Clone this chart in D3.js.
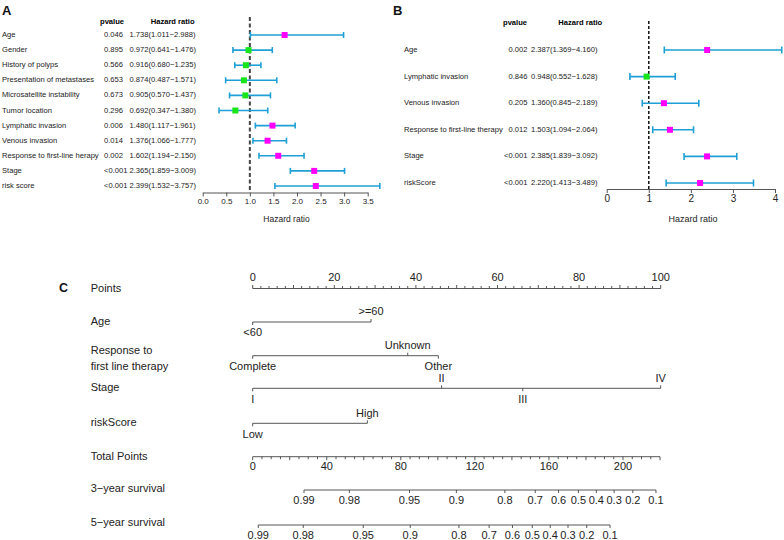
<!DOCTYPE html>
<html>
<head>
<meta charset="utf-8">
<script src="https://cdn.jsdelivr.net/npm/d3@7"></script>
<style>
  html, body { margin: 0; padding: 0; background: #fff; }
  svg { display: block; font-family: "Liberation Sans", Arial, sans-serif; }
</style>
</head>
<body>
<svg id="chart" width="784" height="540"></svg>
<script>
// ---------- Panel A data (univariate) ----------
const aVars = ["Age", "Gender", "History of polyps", "Presentation of metastases",
  "Microsatellite instability", "Tumor location", "Lymphatic invasion", "Venous invasion",
  "Response to first-line herapy", "Stage", "risk score"];
const aP = ["0.046", "0.895", "0.566", "0.653", "0.673", "0.296", "0.006", "0.014", "0.002", "<0.001", "<0.001"];
const aHR = [1.738, 0.972, 0.916, 0.874, 0.905, 0.692, 1.480, 1.376, 1.602, 2.365, 2.399];
const aLo = [1.011, 0.641, 0.680, 0.487, 0.570, 0.347, 1.117, 1.066, 1.194, 1.859, 1.532];
const aHi = [2.988, 1.476, 1.235, 1.571, 1.437, 1.380, 1.961, 1.777, 2.150, 3.009, 3.757];
const aTicks = [0, 0.5, 1, 1.5, 2, 2.5, 3, 3.5];

// ---------- Panel B data (multivariate) ----------
const bVars = ["Age", "Lymphatic invasion", "Venous invasion", "Response to first-line therapy", "Stage", "riskScore"];
const bP = ["0.002", "0.846", "0.205", "0.012", "<0.001", "<0.001"];
const bHR = [2.387, 0.948, 1.360, 1.503, 2.385, 2.220];
const bLo = [1.369, 0.552, 0.845, 1.094, 1.839, 1.413];
const bHi = [4.160, 1.628, 2.189, 2.064, 3.092, 3.489];
const bTicks = [0, 1, 2, 3, 4];

// ---------- Panel C data (nomogram) ----------
const pointsTicks = [0, 20, 40, 60, 80, 100];
const ageLevels = ["<60", ">=60"];
const agePoints = [0, 29];
const respLevels = ["Complete", "Unknown", "Other"];
const respPoints = [0, 38, 45.5];
const stageLevels = ["I", "II", "III", "IV"];
const stagePoints = [0, 46.3, 66.2, 100];
const riskLevels = ["Low", "High"];
const riskPoints = [0, 28.1];
const totalTicks = [0, 40, 80, 120, 160, 200];
const totalMax = 220;
const survLabels = ["0.99", "0.98", "0.95", "0.9", "0.8", "0.7", "0.6", "0.5", "0.4", "0.3", "0.2", "0.1"];
const surv3Points = [27.7, 52.2, 84.7, 110.0, 136.2, 152.6, 165.2, 175.9, 185.6, 195.2, 205.3, 217.8];
const surv5Points = [3.0, 27.3, 59.7, 85.1, 111.4, 127.7, 140.3, 151.0, 160.7, 170.3, 180.4, 193.0];

const svg = d3.select("#chart");
const CI_COLOR = "#1f9fd5";
const UP_COLOR = "#ff00ff";
const DOWN_COLOR = "#19e619";
const fmt3 = d3.format(".3f");

function forest(cfg) {
  const g = svg.append("g");
  const n = cfg.vars.length;
  const x = d3.scaleLinear().domain(cfg.domain).range(cfg.range);
  const y = d3.scaleLinear().domain([0, n - 1]).range(cfg.rowRange);

  g.append("text").attr("x", cfg.letterX).attr("y", 15).text(cfg.letter)
    .attr("font-weight", "bold").attr("font-size", 13).attr("fill", "#111");
  g.append("text").attr("x", cfg.pHeadX).attr("y", cfg.headY).text("pvalue")
    .attr("font-weight", "bold").attr("font-size", 7.6).attr("dominant-baseline", "middle");
  g.append("text").attr("x", cfg.hrHeadX).attr("y", cfg.headY).text("Hazard ratio")
    .attr("font-weight", "bold").attr("font-size", 7.6).attr("dominant-baseline", "middle");

  const rows = g.selectAll("g.row").data(d3.range(n)).join("g").attr("class", "row");
  rows.append("text").attr("x", cfg.labelX).attr("y", i => y(i)).text(i => cfg.vars[i])
    .attr("font-size", 7.6).attr("dominant-baseline", "middle").attr("fill", "#222");
  rows.append("text").attr("x", cfg.pX).attr("y", i => y(i)).text(i => cfg.p[i])
    .attr("text-anchor", cfg.pAnchor)
    .attr("font-size", 7.6).attr("dominant-baseline", "middle").attr("fill", "#222");
  rows.append("text").attr("x", cfg.hrX).attr("y", i => y(i))
    .text(i => `${fmt3(cfg.hr[i])}(${fmt3(cfg.lo[i])}\u2212${fmt3(cfg.hi[i])})`)
    .attr("font-size", 7.6).attr("dominant-baseline", "middle").attr("fill", "#222");

  // axis
  const axis = d3.axisBottom(x).tickValues(cfg.ticks).tickFormat(cfg.tickFmt).tickSize(4).tickSizeOuter(0);
  const ax = g.append("g").attr("transform", `translate(0,${cfg.axisY})`).call(axis);
  ax.select(".domain").attr("stroke", "#555").attr("stroke-width", 1);
  ax.selectAll(".tick line").attr("stroke", "#555");
  ax.selectAll(".tick text").attr("font-size", cfg.tickFont).attr("fill", "#222")
    .attr("font-family", "Liberation Sans, Arial, sans-serif").attr("dy", "0.6em");
  g.append("text").attr("x", cfg.titleX).attr("y", cfg.titleY).text("Hazard ratio")
    .attr("text-anchor", "middle").attr("font-size", cfg.titleFont).attr("dominant-baseline", "middle").attr("fill", "#222");

  // reference line at HR = 1
  g.append("line").attr("x1", x(1)).attr("x2", x(1)).attr("y1", cfg.dashTop).attr("y2", cfg.axisY)
    .attr("stroke", cfg.dashColor).attr("stroke-width", cfg.dashWidth).attr("stroke-dasharray", cfg.dashArray);

  // CIs
  const ci = g.selectAll("g.ci").data(d3.range(n)).join("g").attr("class", "ci");
  ci.append("line").attr("x1", i => x(cfg.lo[i])).attr("x2", i => x(cfg.hi[i]))
    .attr("y1", i => y(i)).attr("y2", i => y(i)).attr("stroke", CI_COLOR).attr("stroke-width", 1.6);
  ci.append("line").attr("x1", i => x(cfg.lo[i])).attr("x2", i => x(cfg.lo[i]))
    .attr("y1", i => y(i) - cfg.cap).attr("y2", i => y(i) + cfg.cap).attr("stroke", CI_COLOR).attr("stroke-width", 1.6);
  ci.append("line").attr("x1", i => x(cfg.hi[i])).attr("x2", i => x(cfg.hi[i]))
    .attr("y1", i => y(i) - cfg.cap).attr("y2", i => y(i) + cfg.cap).attr("stroke", CI_COLOR).attr("stroke-width", 1.6);
  ci.append("rect").attr("x", i => x(cfg.hr[i]) - cfg.box / 2).attr("y", i => y(i) - cfg.box / 2)
    .attr("width", cfg.box).attr("height", cfg.box)
    .attr("fill", i => cfg.hr[i] > 1 ? UP_COLOR : DOWN_COLOR);
}

forest({
  letter: "A", letterX: 2, vars: aVars, p: aP, hr: aHR, lo: aLo, hi: aHi,
  domain: [0, 3.5], range: [202.7, 367.7], rowRange: [35, 186],
  headY: 21.5, pHeadX: 100, hrHeadX: 150.7, labelX: 2, pX: 104, pAnchor: "start", hrX: 129.5,
  ticks: aTicks, tickFmt: d3.format(".1f"), axisY: 192.5, tickFont: 8,
  titleX: 286.5, titleY: 220, titleFont: 8.5,
  dashTop: 17, dashColor: "#444", dashWidth: 2, dashArray: "4,2.5",
  cap: 3, box: 6
});

forest({
  letter: "B", letterX: 393, vars: bVars, p: bP, hr: bHR, lo: bLo, hi: bHi,
  domain: [0, 4], range: [606.7, 775], rowRange: [50, 183],
  headY: 23.3, pHeadX: 503, hrHeadX: 558.3, labelX: 404, pX: 527.5, pAnchor: "end", hrX: 531,
  ticks: bTicks, tickFmt: d3.format("d"), axisY: 189, tickFont: 10,
  titleX: 693, titleY: 220, titleFont: 9,
  dashTop: 21, dashColor: "#111", dashWidth: 1.5, dashArray: "3,2",
  cap: 3.5, box: 6
});

// ---------- Panel C : nomogram ----------
const C = svg.append("g");
const TXT = "#222", LINE = "#444";
const px = d3.scaleLinear().domain([0, 100]).range([252.7, 660.7]);
const tx = d3.scaleLinear().domain([0, totalMax]).range([252.7, 252.7 + totalMax * 1.8515]);

C.append("text").attr("x", 59).attr("y", 289).text("C").attr("font-weight", "bold")
  .attr("font-size", 12.5).attr("dominant-baseline", "middle").attr("fill", "#111");

const leftLabels = [
  { t: ["Points"], y: 289 },
  { t: ["Age"], y: 321.7 },
  { t: ["Response to", "first line therapy"], y: 351 },
  { t: ["Stage"], y: 387.7 },
  { t: ["riskScore"], y: 423.3 },
  { t: ["Total Points"], y: 456.7 },
  { t: ["3\u2212year survival"], y: 489 },
  { t: ["5\u2212year survival"], y: 523.3 }
];
leftLabels.forEach(d => {
  d.t.forEach((s, k) => {
    C.append("text").attr("x", 90.7).attr("y", d.y + k * 15.7).text(s)
      .attr("font-size", 11).attr("dominant-baseline", "middle").attr("fill", TXT);
  });
});

function hline(x1, x2, y) {
  C.append("line").attr("x1", x1).attr("x2", x2).attr("y1", y).attr("y2", y)
    .attr("stroke", LINE).attr("stroke-width", 0.9);
}
function tick(x, y, len) {
  C.append("line").attr("x1", x).attr("x2", x).attr("y1", y).attr("y2", y + len)
    .attr("stroke", LINE).attr("stroke-width", 0.9);
}
function label(x, y, s) {
  C.append("text").attr("x", x).attr("y", y).text(s).attr("text-anchor", "middle")
    .attr("font-size", 11).attr("dominant-baseline", "middle").attr("fill", TXT);
}

// Points axis (labels above)
const yPts = 288.5;
hline(px(0), px(100), yPts);
d3.range(0, 100.001, 2).forEach(v => tick(px(v), yPts, v % 10 === 0 ? -3.5 : -2.5));
pointsTicks.forEach(v => label(px(v), yPts - 10.5, String(v)));

// factor axes
function factorAxis(levels, pts, y, sides) {
  hline(px(d3.min(pts)), px(d3.max(pts)), y);
  levels.forEach((lv, i) => {
    const up = sides[i] === "up";
    tick(px(pts[i]), y, up ? -3 : 3);
    label(px(pts[i]), up ? y - 9.5 : y + 11.3, lv);
  });
}
factorAxis(ageLevels, agePoints, 322, ["down", "up"]);
factorAxis(respLevels, respPoints, 355.7, ["down", "up", "down"]);
factorAxis(stageLevels, stagePoints, 388.3, ["down", "up", "down", "up"]);
factorAxis(riskLevels, riskPoints, 423.3, ["down", "up"]);

// Total points (labels below)
const yTot = 456.7;
hline(tx(0), tx(totalMax), yTot);
d3.range(0, totalMax + 0.001, 5).forEach(v => tick(tx(v), yTot, v % 20 === 0 ? 3.5 : 2.5));
totalTicks.forEach(v => label(tx(v), yTot + 10.6, String(v)));

// survival axes
function survAxis(pts, y) {
  hline(tx(d3.min(pts)), tx(d3.max(pts)), y);
  pts.forEach((p, i) => {
    tick(tx(p), y, 3);
    label(tx(p), y + 10.7, survLabels[i]);
  });
}
survAxis(surv3Points, 490);
survAxis(surv5Points, 525);
</script>
</body>
</html>
